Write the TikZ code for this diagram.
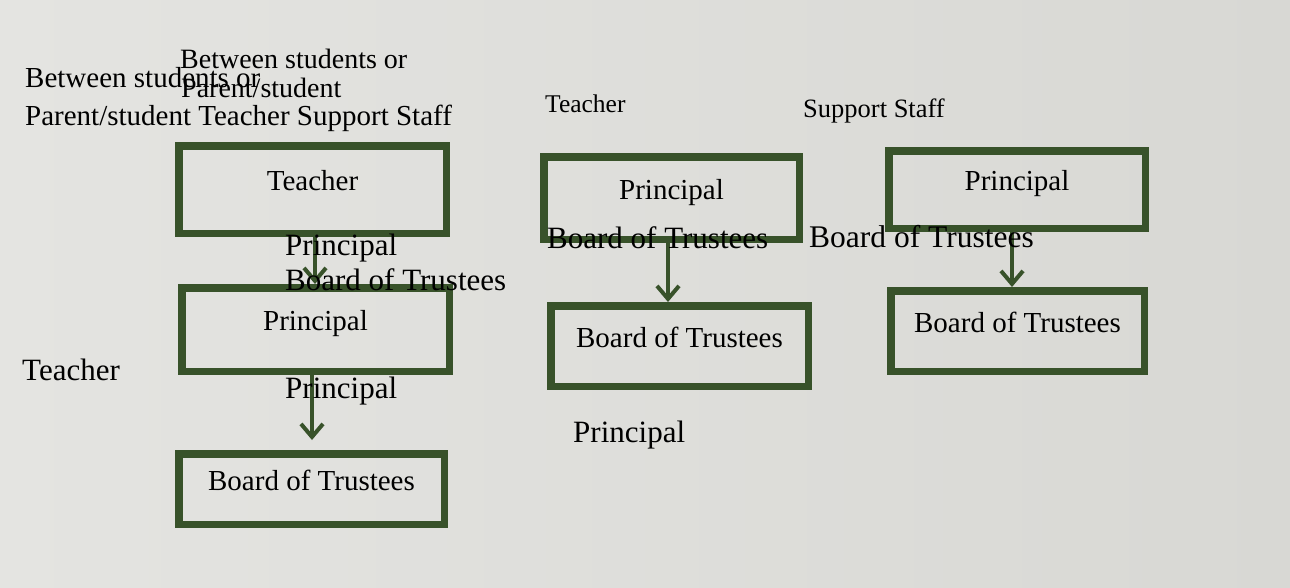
\documentclass[tikz,border=0pt]{standalone}
\usepackage{fontspec}
\setmainfont{Liberation Serif}
\usetikzlibrary{arrows.meta}
\definecolor{boxgreen}{RGB}{56,82,42}
\definecolor{paperL}{RGB}{228,228,225}
\definecolor{paperR}{RGB}{216,216,212}
\begin{document}
\begin{tikzpicture}[x=1pt,y=-1pt,
  box/.style={draw=boxgreen, line width=7.5pt, rectangle, inner sep=0pt,
    text height=20pt, text depth=18pt, font=\fontsize{29}{34}\selectfont},
  lbl/.style={anchor=base west, inner sep=0pt, text=black},
  arr/.style={draw=boxgreen, line width=4pt, -{Straight Barb[length=13pt,width=22pt]}}]
\useasboundingbox (0,0) rectangle (1290,587);
\shade[left color=paperL, right color=paperR] (0,0) rectangle (1290,587);

% column 1
\node[box, minimum width=267.5pt, minimum height=87.5pt] (c1a) at (312.5,189.5) {Teacher};
\node[box, minimum width=267.5pt, minimum height=83.5pt] (c1b) at (315.5,329.5) {Principal};
\node[box, minimum width=265.5pt, minimum height=70.5pt] (c1c) at (311.5,489) {Board of Trustees};
% column 2
\node[box, minimum width=255.5pt, minimum height=82.5pt] (c2a) at (671.5,198) {Principal};
\node[box, minimum width=257.5pt, minimum height=80.5pt] (c2b) at (679.5,346) {Board of Trustees};
% column 3
\node[box, minimum width=256.5pt, minimum height=77.5pt] (c3a) at (1017,189.5) {Principal};
\node[box, minimum width=253.5pt, minimum height=80.5pt] (c3b) at (1017.5,331) {Board of Trustees};

% arrows
\draw[arr] ([xshift=2.5pt]c1a.south) -- ([xshift=2.5pt]c1a.south |- c1b.north);
\draw[arr, shorten >=10pt] ([xshift=-3.5pt]c1b.south) -- ([xshift=-3.5pt]c1b.south |- c1c.north);
\draw[arr] ([xshift=-3.5pt]c2a.south) -- ([xshift=-3.5pt]c2a.south |- c2b.north);
\draw[arr] ([xshift=-5pt]c3a.south) -- ([xshift=-5pt]c3a.south |- c3b.north);

% overlaid labels
\node[lbl, font=\fontsize{29}{34}\selectfont] (l1a) at (25,87) {Between students or};
\node[lbl, font=\fontsize{29}{34}\selectfont] (l1b) at (25,125) {Parent/student Teacher Support Staff};
\node[lbl, font=\fontsize{28}{33}\selectfont] (l2a) at (180,68) {Between students or};
\node[lbl, font=\fontsize{28}{33}\selectfont] (l2b) at (181,97) {Parent/student};
\node[lbl, font=\fontsize{31}{36}\selectfont] (l3) at (22,380) {Teacher};
\node[lbl, font=\fontsize{31}{36}\selectfont] (l4) at (285,255) {Principal};
\node[lbl, font=\fontsize{31}{36}\selectfont] (l5) at (285,290) {Board of Trustees};
\node[lbl, font=\fontsize{31}{36}\selectfont] (l6) at (285,398) {Principal};
\node[lbl, font=\fontsize{25.5}{30}\selectfont] (l7) at (545,112) {Teacher};
\node[lbl, font=\fontsize{31}{36}\selectfont] (l8) at (547,248) {Board of Trustees};
\node[lbl, font=\fontsize{26.5}{31}\selectfont] (l9) at (803,117) {Support Staff};
\node[lbl, font=\fontsize{31.5}{36}\selectfont] (l10) at (809,247) {Board of Trustees};
\node[lbl, font=\fontsize{31}{36}\selectfont] (l11) at (573,442) {Principal};
\end{tikzpicture}
\end{document}
